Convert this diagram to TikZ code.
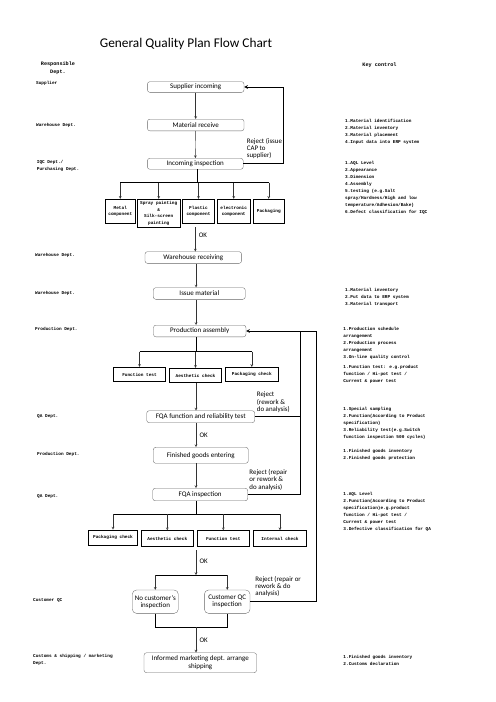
\documentclass[tikz,border=0pt]{standalone}
\usepackage{fontspec}
\setmainfont{Carlito}
\newfontfamily\keyfont{Liberation Mono}
\usetikzlibrary{arrows,calc}
\tikzset{
 stage/.style={draw=black!60,rounded corners=3pt,minimum height=14pt,inner sep=1pt,align=center,font=\fontsize{8.4}{8.6}\selectfont},
 part/.style={draw,line width=1pt,inner sep=1pt,align=center,font=\keyfont\bfseries\fontsize{5.3}{8}\selectfont},
 dept/.style={anchor=west,align=left,inner sep=0pt,font=\keyfont\bfseries\fontsize{5.3}{8.4}\selectfont},
 head/.style={align=center,inner sep=0pt,font=\keyfont\bfseries\fontsize{6.2}{9.6}\selectfont},
 note/.style={anchor=west,align=left,inner sep=0pt,font=\fontsize{8.3}{8.6}\selectfont},
 flow/.style={->,>=stealth,draw=black!80,line width=.5pt},
 bar/.style={line width=1pt},
 back/.style={->,>=stealth,line width=1pt}
}
\begin{document}
\begin{tikzpicture}[x=1.2pt,y=-1.2pt]
\useasboundingbox (0,0) rectangle (496,702);
\node[font=\fontsize{16}{19}\selectfont] (ttl) at (186,44) {General Quality Plan Flow Chart};
\node[head] (rd) at (58,68.3) {Responsible\\Dept.};
\node[head] (kc) at (379.5,65.3) {Key control};
\node[dept] (d1) at (36,83.3) {Supplier};
\node[dept] (d2) at (36,125.7) {Warehouse Dept.};
\node[dept] (d3) at (36.7,165.8) {IQC Dept./\\Purchasing Dept.};
\node[dept] (d4) at (35,255.7) {Warehouse Dept.};
\node[dept] (d5) at (35,293.3) {Warehouse Dept.};
\node[dept] (d6) at (35,329.3) {Production Dept.};
\node[dept] (d7) at (37,416.7) {QA Dept.};
\node[dept] (d8) at (37,454) {Production Dept.};
\node[dept] (d9) at (37,496.7) {QA Dept.};
\node[dept] (d10) at (33,600.7) {Customer QC};
\node[dept] (d11) at (33,660.3) {Customs \& shipping /  marketing\\Dept.};
\node[dept] (key1) at (345,131.4) {1.Material identification\\2.Material inventory\\3.Material placement\\4.Input data into ERP system};
\node[dept] (key2) at (345,187.7) {1.AQL Level\\2.Appearance\\3.Dimension\\4.Assembly\\5.testing (e.g.Salt\\spray/Hardness/High and low\\temperature/Adhesion/Bake)\\6.Defect classification for IQC};
\node[dept] (key3) at (345,297) {1.Material inventory\\2.Put data to ERP system\\3.Material transport};
\node[dept] (key4) at (343.3,343.3) {1.Production schedule\\arrangement\\2.Production process\\arrangement\\3.On-line quality control};
\node[dept] (key5) at (343.3,374.5) {1.Function test: e.g.product\\function / Hi-pot test /\\Current \& power test};
\node[dept] (key6) at (343.3,422.9) {1.Special sampling\\2.Function(According to Product\\specification)\\3.Reliability test(e.g.Switch\\function inspection 500 cycles)};
\node[dept] (key7) at (343.3,454.8) {1.Finished goods inventory\\2.Finished goods protection};
\node[dept] (key8) at (343.3,511.4) {1.AQL Level\\2.Function(According to Product\\specification)e.g.product\\function / Hi-pot test /\\Current \& power test\\3.Defective classification for QA};
\node[dept] (key9) at (343.3,660.2) {1.Finished goods inventory\\2.Customs declaration};
\node[stage,minimum width=116pt,minimum height=12.8pt] (sup) at (195.7,87) {Supplier incoming};
\node[stage,minimum width=116pt] (mat) at (195.7,125) {Material receive};
\node[stage,minimum width=115pt,minimum height=13.2pt] (inc) at (195.3,163.8) {Incoming inspection};
\node[part,minimum width=36pt,minimum height=28.8pt] (c1) at (120.3,211.3) {Metal\\component};
\node[part,minimum width=52pt,minimum height=33.6pt] (c2) at (158.7,213.3) {Spray painting\\\&\\Silk-screen\\painting};
\node[part,minimum width=38.8pt,minimum height=28.8pt] (c3) at (198.5,211.3) {Plastic\\component};
\node[part,minimum width=39.2pt,minimum height=28.8pt] (c4) at (233.7,211.3) {electronic\\component};
\node[part,minimum width=37.2pt,minimum height=28.8pt] (c5) at (268.8,211.3) {Packaging};
\node[stage,minimum width=116pt] (whr) at (193.3,257.5) {Warehouse receiving};
\node[stage,minimum width=110.4pt] (iss) at (199.3,293.5) {Issue material};
\node[stage,minimum width=111pt] (pro) at (199.7,331) {Production assembly};
\node[part,minimum width=62.8pt,minimum height=17.2pt] (t1) at (139.5,374.5) {Function test};
\node[part,minimum width=62.8pt,minimum height=17.2pt] (t2) at (195.5,375.5) {Aesthetic check};
\node[part,minimum width=62.8pt,minimum height=17.2pt] (t3) at (251.8,374.5) {Packaging check};
\node[stage,minimum width=129.6pt,minimum height=14.4pt] (fqf) at (200.7,416.7) {FQA function and reliability test};
\node[stage,minimum width=114pt,minimum height=19.2pt] (fin) at (200.8,455.3) {Finished goods entering};
\node[stage,minimum width=114pt,minimum height=15pt] (fqi) at (200.2,494.5) {FQA inspection};
\node[part,minimum width=59.2pt,minimum height=18.8pt] (k1) at (113,537.8) {Packaging check};
\node[part,minimum width=62.4pt,minimum height=19.2pt] (k2) at (167.3,538.7) {Aesthetic check};
\node[part,minimum width=62.4pt,minimum height=19.2pt] (k3) at (223.3,538.7) {Function test};
\node[part,minimum width=64pt,minimum height=19.2pt] (k4) at (280,538.7) {Internal check};
\node[stage,minimum width=55.2pt,minimum height=28pt,rounded corners=5pt] (noc) at (155.3,601.7) {No customer's\\inspection};
\node[stage,minimum width=54.8pt,minimum height=28pt,rounded corners=5pt] (cqc) at (227.2,601.7) {Customer QC\\inspection};
\node[stage,minimum width=135pt,minimum height=24pt] (inf) at (200.3,662.7) {Informed marketing dept. arrange\\shipping};
\coordinate (ax) at (196,0);
\coordinate (j1) at (197.7,182.7);
\coordinate (j2) at (196,351.5);
\coordinate (j3) at (196,514.3);
\coordinate (j4) at (196,575);
\coordinate (j5) at (196,627.3);
\coordinate (r1) at (283.3,125);
\coordinate (fb1) at (300,331);
\coordinate (fb2) at (316,331);
\coordinate (ok1) at (195.3,227);
\coordinate (ok3) at (196,550);
\draw[flow] (sup) -- (mat);
\draw[flow] (mat) -- (inc);
\draw[back] (inc.east) -| (r1) |- (sup.east);
\node[note] (rj1) at (246.7,148.3) {Reject (issue\\CAP to\\supplier)};
\draw[bar] (inc.south -| j1) -- (j1);
\draw[bar] (c1.north |- j1) -- (c5.north |- j1);
\foreach \c in {c1,c2,c3,c4,c5} \draw[flow] (\c.north |- j1) -- (\c.north);
\draw[flow] (ok1) -- (ok1 |- whr.north) node[note,pos=.35,xshift=4pt] (okA) {OK};
\draw[flow] (whr.south -| ax) -- (iss.north -| ax);
\draw[flow] (iss.south -| ax) -- (pro.north -| ax);
\draw[bar] (pro.south -| j2) -- (j2);
\draw[bar] (t1.north |- j2) -- (t3.north |- j2);
\foreach \t in {t1,t2,t3} \draw[flow] (\t.north |- j2) -- (\t.north);
\draw[flow] (t2.south -| ax) -- (fqf.north -| ax);
\node[note] (rj2) at (256.7,402.3) {Reject\\(rework \&\\do analysis)};
\draw[flow] (fqf.south -| ax) -- (fin.north -| ax) node[note,midway,xshift=4pt] (okB) {OK};
\draw[flow] (fin.south -| ax) -- (fqi.north -| ax);
\node[note] (rj3) at (249.3,480) {Reject (repair\\or rework \&\\do analysis)};
\draw[bar] (fqi.south -| j3) -- (j3);
\draw[bar] (k1.north |- j3) -- (k4.north |- j3);
\foreach \k in {k1,k2,k3,k4} \draw[flow] (\k.north |- j3) -- (\k.north);
\draw[flow] (ok3) -- (j4) node[note,pos=.45,xshift=4pt] (okC) {OK};
\draw[bar] (noc.north |- j4) -- (cqc.north |- j4);
\draw[flow] (noc.north |- j4) -- (noc.north);
\draw[flow] (cqc.north |- j4) -- (cqc.north);
\draw[bar] (noc.south) -- (noc.south |- j5) -- (cqc.south |- j5) -- (cqc.south);
\draw[flow] (j5) -- (inf.north -| j5) node[note,midway,xshift=4pt] (okD) {OK};
\node[note] (rj4) at (255.3,586.7) {Reject (repair or\\rework \& do\\analysis)};
\draw[bar] (fqf.east) -- (fqf.east -| fb1);
\draw[bar] (fqi.east) -| (fb1);
\draw[back] (cqc.east) -| (fb2) -- (pro.east);
\end{tikzpicture}
\end{document}
